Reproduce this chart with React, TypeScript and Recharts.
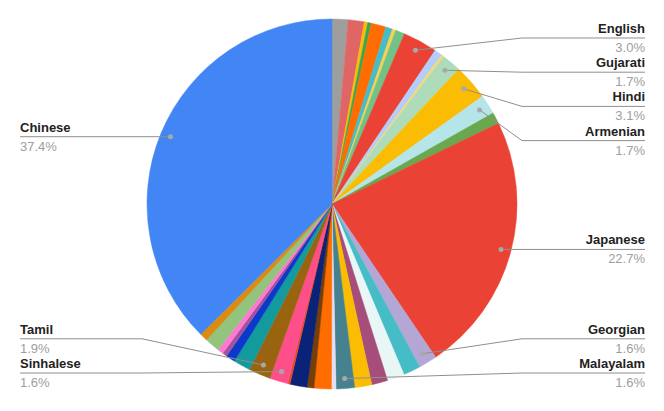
import React from 'react';
import { PieChart, Pie, Cell } from 'recharts';

// slices in drawing order, clockwise from 12 o'clock
const languages = [
  'Korean', 'Thai', 'Lao', 'Khmer', 'Arabic', 'Hebrew', 'Syriac', 'Greek',
  'English', 'Cherokee', 'Tibetan', 'Gujarati', 'Hindi', 'Armenian', 'Russian',
  'Japanese', 'Georgian', 'Bengali', 'Mongolian', 'Persian', 'Telugu', 'Malayalam',
  'Kannada', 'Punjabi', 'Burmese', 'Urdu', 'Amharic', 'Sinhalese', 'Tamil',
  'Oriya', 'Marathi', 'Nepali', 'Ukrainian', 'Serbian', 'Vietnamese', 'Chinese',
];

const shares = [
  1.4, 1.4, 0.3, 0.3, 1.3, 0.6, 0.3, 0.8,
  3.0, 0.7, 0.2, 1.7, 3.1, 1.7, 1.0,
  22.7, 1.6, 1.5, 1.5, 1.4, 1.5, 1.6,
  0.4, 1.5, 0.6, 1.5, 0.2, 1.6, 1.9,
  1.5, 0.8, 0.4, 0.5, 1.3, 0.7, 37.4,
];

const sliceColors = [
  '#9e9e9e', '#e06666', '#fbbc04', '#34a853', '#ff6d01', '#46bdc6', '#fcd04f', '#71c287',
  '#ea4335', '#b3cefb', '#ffd966', '#aedcba', '#fbbc04', '#b5e5e8', '#6aa84f',
  '#ea4335', '#b4a7d6', '#46bdc6', '#e8f6f6', '#a64d79', '#fbbc04', '#45818e',
  '#e3def2', '#ff6d01', '#783f04', '#0b2279', '#e8492b', '#ff4f8b', '#9a6310',
  '#139a9c', '#0a39cc', '#a6519c', '#ff78d2', '#93c47d', '#d98b14', '#4285f4',
];

const data = languages.map((name, i) => ({ name, value: shares[i] }));

const WIDTH = 664;
const HEIGHT = 411;
const CX = 332;
const CY = 204;
const RADIUS = 185;
const DOT_INSET = 10;
const ELBOW = 190;
const LABEL_LEFT = 20;
const LABEL_RIGHT = 645;
const LABEL_GAP = 34.2;
const LABEL_MIN_Y = 38;
const LABEL_MAX_Y = 373;
const RADIAN = Math.PI / 180;
const FONT = '"Liberation Sans", Arial, sans-serif';

const total = shares.reduce((a, b) => a + b, 0);

// same angle convention as the Pie below (startAngle 90, endAngle -270)
function midAngleOf(i: number) {
  const before = shares.slice(0, i).reduce((a, b) => a + b, 0);
  return 90 - ((before + shares[i] / 2) / total) * 360;
}

type Item = { index: number; target: number };

// push labels apart so they don't overlap, keep them inside the chart
function spread(items: Item[]) {
  const sorted = [...items].sort((a, b) => a.target - b.target);
  const groups = sorted.map((it) => ({ members: [it], top: it.target }));
  let changed = true;
  while (changed) {
    changed = false;
    for (const g of groups) {
      const n = g.members.length;
      const mean = g.members.reduce((s, m) => s + m.target, 0) / n;
      g.top = mean - ((n - 1) * LABEL_GAP) / 2;
      g.top = Math.max(LABEL_MIN_Y, Math.min(g.top, LABEL_MAX_Y - (n - 1) * LABEL_GAP));
    }
    for (let i = 0; i < groups.length - 1; i++) {
      const a = groups[i];
      const b = groups[i + 1];
      if (a.top + a.members.length * LABEL_GAP > b.top + 0.01) {
        a.members.push(...b.members);
        groups.splice(i + 1, 1);
        changed = true;
        break;
      }
    }
  }
  const out: Record<number, number> = {};
  groups.forEach((g) => g.members.forEach((m, k) => (out[m.index] = g.top + k * LABEL_GAP)));
  return out;
}

const leftItems: Item[] = [];
const rightItems: Item[] = [];
shares.forEach((v, i) => {
  if (v / total < 0.0155) return;
  const a = midAngleOf(i) * RADIAN;
  const target = CY - (RADIUS - DOT_INSET) * Math.sin(a);
  (Math.cos(a) >= 0 ? rightItems : leftItems).push({ index: i, target });
});
const labelY: Record<number, number> = { ...spread(leftItems), ...spread(rightItems) };

const renderLabel = (props: any) => {
  const { cx, cy, midAngle, outerRadius, percent, index, name } = props;
  const lineY = labelY[index];
  if (lineY === undefined) return null;
  const cos = Math.cos(-midAngle * RADIAN);
  const sin = Math.sin(-midAngle * RADIAN);
  const dotX = cx + (outerRadius - DOT_INSET) * cos;
  const dotY = cy + (outerRadius - DOT_INSET) * sin;
  const right = cos >= 0;
  const elbowX = right ? cx + ELBOW : cx - ELBOW;
  const endX = right ? LABEL_RIGHT : LABEL_LEFT;
  const anchor = right ? 'end' : 'start';
  return (
    <g key={`label-${index}`}>
      <polyline
        points={`${dotX},${dotY} ${elbowX},${lineY} ${endX},${lineY}`}
        fill="none"
        stroke="#8f8f8f"
        strokeWidth={1}
      />
      <circle cx={dotX} cy={dotY} r={2.5} fill="#a8a8a8" />
      <text x={endX} y={lineY - 5} textAnchor={anchor} fontSize={13} fontWeight="bold" fill="#222" fontFamily={FONT}>
        {name}
      </text>
      <text x={endX} y={lineY + 14} textAnchor={anchor} fontSize={13} fill="#9e9e9e" fontFamily={FONT}>
        {(percent * 100).toFixed(1)}%
      </text>
    </g>
  );
};

export default function App() {
  return (
    <div style={{ position: 'absolute', left: 0, top: 0, width: WIDTH, height: HEIGHT, background: '#fff' }}>
      <PieChart width={WIDTH} height={HEIGHT} margin={{ top: 0, right: 0, bottom: 0, left: 0 }}>
        <Pie
          data={data}
          dataKey="value"
          nameKey="name"
          cx={CX}
          cy={CY}
          outerRadius={RADIUS}
          startAngle={90}
          endAngle={-270}
          label={renderLabel}
          labelLine={false}
          isAnimationActive={false}
        >
          {data.map((entry, index) => (
            <Cell key={`cell-${index}`} fill={sliceColors[index]} stroke={sliceColors[index]} strokeWidth={0.5} />
          ))}
        </Pie>
      </PieChart>
    </div>
  );
}
